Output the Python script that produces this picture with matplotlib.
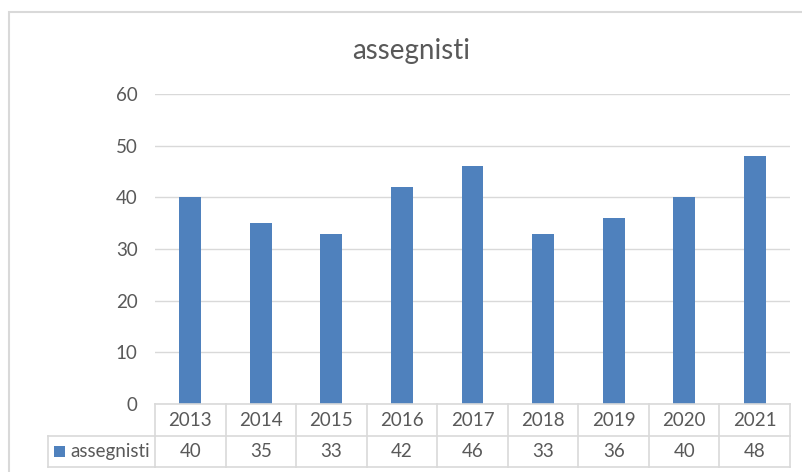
import matplotlib.pyplot as plt
from matplotlib.patches import Rectangle

years = ['2013', '2014', '2015', '2016', '2017', '2018', '2019', '2020', '2021']
assegnisti = [40, 35, 33, 42, 46, 33, 36, 40, 48]
series_name = 'assegnisti'
yticks = [0, 10, 20, 30, 40, 50, 60]

W, H = 802, 472
blue = '#4F81BD'
grey = '#D9D9D9'
txt = '#595959'
fs = 13.5
plt.rcParams['font.family'] = ['Lato', 'DejaVu Sans']

fig = plt.figure(figsize=(W / 100, H / 100), dpi=100)
# outer chart frame (Excel style)
fig.patches.append(Rectangle((9 / W, -0.1), 1.2, 1 - 12 / H + 0.1, transform=fig.transFigure,
                             fill=False, edgecolor=grey, linewidth=1.5))

left, right, top, bottom = 155, 790, 94, 404
ax = fig.add_axes([left / W, 1 - bottom / H, (right - left) / W, (bottom - top) / H])

x = list(range(len(years)))
ax.bar(x, assegnisti, width=0.31, color=blue, zorder=3)
ax.set_xlim(-0.5, len(years) - 0.5)
ax.set_ylim(0, 60)
ax.set_yticks(yticks)
ax.tick_params(axis='y', length=0, pad=12.5, labelsize=fs, labelcolor=txt)
ax.tick_params(axis='x', length=0, labelbottom=False)
ax.grid(axis='y', color=grey, linewidth=1, zorder=0)
for s in ax.spines.values():
    s.set_visible(False)

fig.text(411 / W, 1 - 51 / H, 'assegnisti', ha='center', va='center', fontsize=20, color=txt)

# data table below the axis
def fy(py):
    return 1 - (py - top) / (bottom - top)

row1, row2, row3 = 404, 436, 467
tr = ax.get_xaxis_transform()
lk = dict(color=grey, linewidth=1.2, clip_on=False, transform=tr, zorder=4)
ax.plot([-0.5, len(years) - 0.5], [fy(row1)] * 2, **lk)
ax.plot([-0.5, len(years) - 0.5], [fy(row2)] * 2, **lk)
ax.plot([-0.5, len(years) - 0.5], [fy(row3)] * 2, **lk)
for b in range(len(years) + 1):
    ax.plot([b - 0.5, b - 0.5], [fy(row1), fy(row3)], **lk)
# legend key column
lx0 = -0.5 - (left - 48) / ((right - left) / len(years))
ax.plot([lx0, -0.5], [fy(row2)] * 2, **lk)
ax.plot([lx0, -0.5], [fy(row3)] * 2, **lk)
ax.plot([lx0, lx0], [fy(row2), fy(row3)], **lk)

for i, (yr, v) in enumerate(zip(years, assegnisti)):
    ax.text(i, fy((row1 + row2) / 2), yr, ha='center', va='center', fontsize=fs,
            color=txt, transform=tr, clip_on=False)
    ax.text(i, fy((row2 + row3) / 2), str(v), ha='center', va='center', fontsize=fs,
            color=txt, transform=tr, clip_on=False)

fig.patches.append(Rectangle((54 / W, 1 - 457 / H), 11 / W, 11 / H, transform=fig.transFigure,
                             facecolor=blue, edgecolor='none'))
fig.text(70 / W, 1 - 451.5 / H, series_name, ha='left', va='center', fontsize=fs, color=txt)

fig.savefig('out.png', dpi=100)
